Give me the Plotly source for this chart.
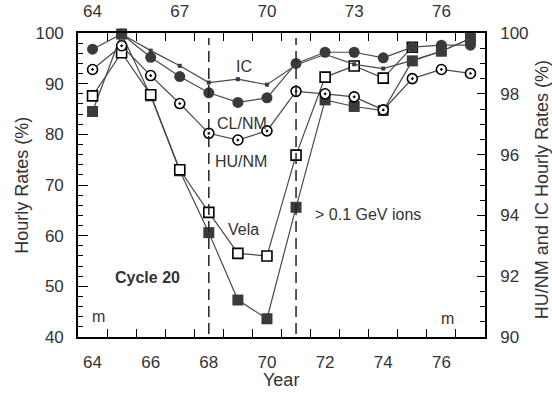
import plotly.graph_objects as go

# ---- data ----
years = list(range(64, 78))
cl_nm = [96.8, 99.8, 95.2, 91.4, 88.2, 86.3, 87.2, 94.0, 96.2, 96.2, 95.1, 97.2, 97.6, 97.6]
ions = [84.5, 99.8, 87.6, 72.8, 60.6, 47.3, 43.6, 65.6, 86.8, 85.5, 84.7, 94.5, 96.4, 98.9]
vela_years = list(range(64, 76))
vela = [87.6, 96.1, 87.8, 73.0, 64.6, 56.5, 56.0, 75.9, 91.3, 93.5, 91.1, 97.2]
ic_years = list(range(65, 78))
ic = [99.97, 99.42, 98.92, 98.37, 98.48, 98.30, 98.95, 99.30, 98.97, 98.83, 99.10, 99.40, 99.82]
hu_nm = [98.80, 99.58, 98.60, 97.68, 96.70, 96.48, 96.78, 98.08, 98.00, 97.90, 97.47, 98.50, 98.80, 98.67]

bottom_ticks = [64, 66, 68, 70, 72, 74, 76]
top_ticks = [64, 67, 70, 73, 76]
half_years = [y + 0.5 for y in range(64, 77)]
left_ticks = [40, 50, 60, 70, 80, 90, 100]
right_ticks = [90, 92, 94, 96, 98, 100]
event_years = [68, 71]

FONT = "Liberation Sans, Arial, sans-serif"
LINE = "#4a4a4a"
DARK = "#3a3a3a"

fig = go.Figure()

# invisible carrier so the top year axis is drawn
fig.add_trace(go.Scatter(
    x=years, y=cl_nm, xaxis="x2", yaxis="y", mode="markers",
    marker=dict(opacity=0), hoverinfo="skip", showlegend=False))

fig.add_trace(go.Scatter(
    x=years, y=ions, mode="lines+markers", name="> 0.1 GeV ions",
    line=dict(color=LINE, width=1.2),
    marker=dict(symbol="square", size=11, color=DARK, line=dict(width=0)),
    cliponaxis=False))
fig.add_trace(go.Scatter(
    x=vela_years, y=vela, mode="lines+markers", name="Vela",
    line=dict(color=LINE, width=1.2),
    marker=dict(symbol="square", size=10, color="white", line=dict(width=1.6, color="black")),
    cliponaxis=False))
fig.add_trace(go.Scatter(
    x=years, y=cl_nm, mode="lines+markers", name="CL/NM",
    line=dict(color=LINE, width=1.2),
    marker=dict(symbol="circle", size=11, color=DARK, line=dict(width=0)),
    cliponaxis=False))
fig.add_trace(go.Scatter(
    x=ic_years, y=ic, mode="lines+markers", name="IC", yaxis="y2",
    line=dict(color=LINE, width=1.2),
    marker=dict(symbol="square", size=4, color=DARK, line=dict(width=0)),
    cliponaxis=False))
fig.add_trace(go.Scatter(
    x=years, y=hu_nm, mode="lines+markers", name="HU/NM", yaxis="y2",
    line=dict(color=LINE, width=1.2),
    marker=dict(symbol="circle-dot", size=10, color="white", line=dict(width=1.6, color="black")),
    cliponaxis=False))

for ey in event_years:
    fig.add_shape(type="line", xref="x", yref="y", x0=ey, x1=ey, y0=40.6, y1=99,
                  line=dict(color="#222222", width=1.5, dash="11px,6px"))

txt = dict(size=16, color="#333333", family=FONT)
ann = [
    dict(x=69.2, y=93.3, text="IC", xanchor="center", yanchor="middle", font=txt),
    dict(x=69.15, y=82.1, text="CL/NM", xanchor="center", yanchor="middle", font=txt),
    dict(x=69.1, y=74.6, text="HU/NM", xanchor="center", yanchor="middle", font=txt),
    dict(x=69.2, y=61.2, text="Vela", xanchor="center", yanchor="middle", font=txt),
    dict(x=71.6, y=64.2, text="> 0.1 GeV ions", xanchor="left", yanchor="middle", font=txt),
    dict(x=65.9, y=51.8, text="<b>Cycle 20</b>", xanchor="center", yanchor="middle", font=txt),
    dict(x=64.2, y=44.0, text="m", xanchor="center", yanchor="middle", font=txt),
    dict(x=76.2, y=43.7, text="m", xanchor="center", yanchor="middle", font=txt),
    dict(x=68, y=102.1, text="M", xanchor="center", yanchor="middle", font=txt),
    dict(xref="paper", yref="paper", x=-0.138, y=0.5, text="Hourly Rates (%)",
         textangle=-90, xanchor="center", yanchor="middle",
         font=dict(size=18, color="#333333", family=FONT)),
    dict(xref="paper", yref="paper", x=1.139, y=0.485, text="HU/NM and IC Hourly Rates (%)",
         textangle=-90, xanchor="center", yanchor="middle",
         font=dict(size=18, color="#333333", family=FONT)),
    dict(xref="paper", yref="paper", x=0.499, y=-0.141, text="Year",
         xanchor="center", yanchor="middle",
         font=dict(size=18, color="#333333", family=FONT)),
]
for a in ann:
    a.setdefault("xref", "x")
    a.setdefault("yref", "y")
    a["showarrow"] = False
fig.update_layout(annotations=ann)

tickfont = dict(size=17, color="#333333", family=FONT)
minor_x = dict(tickvals=half_years, ticks="inside", ticklen=8, tickwidth=1.3, tickcolor="black")

fig.update_layout(
    width=552, height=393,
    margin=dict(l=78, r=67, t=33, b=56, pad=0, autoexpand=False),
    paper_bgcolor="white", plot_bgcolor="white",
    showlegend=False,
    font=dict(family=FONT, color="#333333"),
    xaxis=dict(range=[63.5, 77.5], tickvals=bottom_ticks, ticks="", minor=minor_x,
               automargin=False,
               showline=True, linecolor="black", linewidth=1.6,
               showgrid=False, zeroline=False, tickfont=tickfont, ticklabelstandoff=9),
    xaxis2=dict(range=[63.5, 77.5], overlaying="x", side="top", anchor="y",
                tickvals=top_ticks, ticks="", minor=minor_x, automargin=False,
                showline=True, linecolor="black", linewidth=1.6,
                showgrid=False, zeroline=False, tickfont=tickfont, ticklabelstandoff=7),
    yaxis=dict(range=[40, 100], tickvals=left_ticks, ticks="inside", ticklen=10,
               tickwidth=1.3, tickcolor="black", automargin=False,
               minor=dict(dtick=2, tick0=40, ticks="inside", ticklen=5, tickwidth=1.2, tickcolor="black"),
               showline=True, linecolor="black", linewidth=1.6,
               showgrid=False, zeroline=False, tickfont=tickfont, ticklabelstandoff=9),
    yaxis2=dict(range=[90, 100], overlaying="y", side="right", anchor="x",
                tickvals=right_ticks, ticks="inside", ticklen=8, automargin=False,
                tickwidth=1.3, tickcolor="black",
                minor=dict(dtick=0.5, tick0=90, ticks="inside", ticklen=5, tickwidth=1.2, tickcolor="black"),
                showline=True, linecolor="black", linewidth=1.6,
                showgrid=False, zeroline=False, tickfont=tickfont, ticklabelstandoff=10),
)

fig.write_html("out.html", config={"displayModeBar": False},
               post_script="document.body.style.margin='0';")
